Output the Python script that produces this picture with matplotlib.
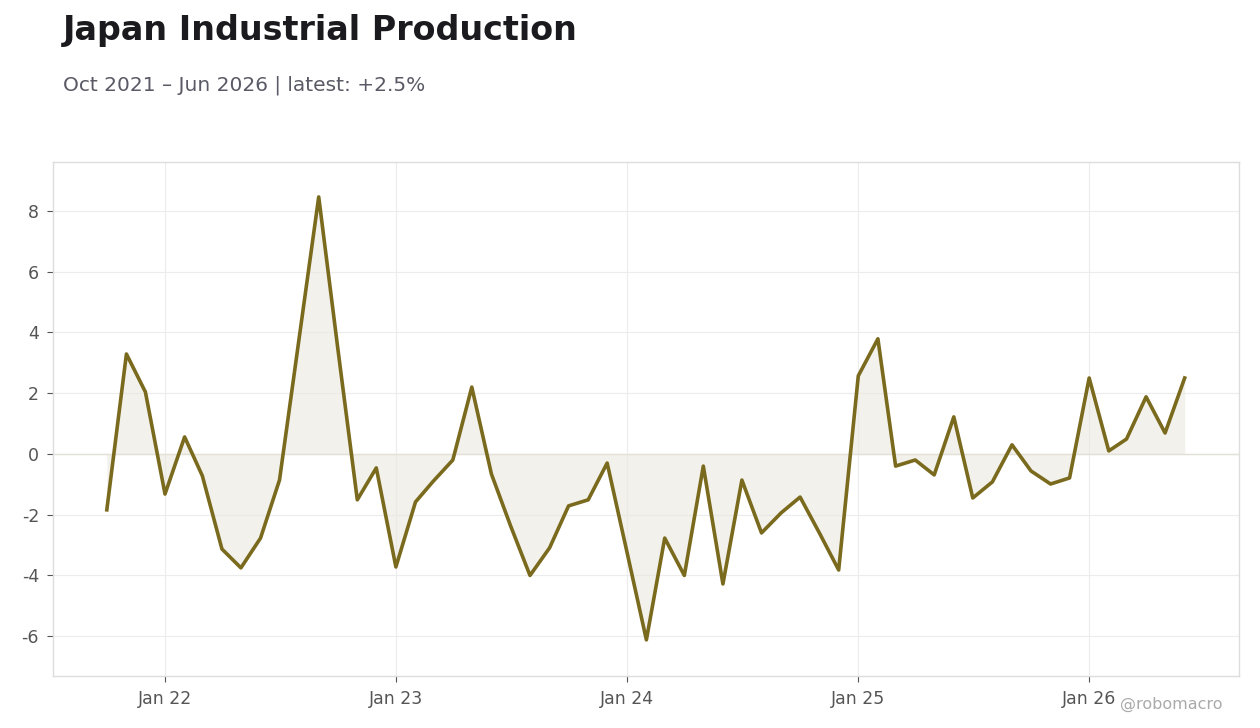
import matplotlib
matplotlib.use("Agg")
import matplotlib.pyplot as plt
import matplotlib.dates as mdates
import pandas as pd

plt.rcParams['axes.unicode_minus'] = False
plt.rcParams['font.family'] = ['DejaVu Sans']

# monthly % change, Oct 2021 - Jun 2026
months = pd.date_range('2021-10-01', '2026-06-01', freq='MS')
values = [
    -1.84, 3.29, 2.04,
    -1.32, 0.56, -0.72, -3.13, -3.75, -2.77, -0.86, 3.80, 8.46, 3.50, -1.51, -0.46,
    -3.72, -1.58, -0.90, -0.20, 2.20, -0.66, -2.35, -4.00, -3.09, -1.71, -1.51, -0.30,
    -3.20, -6.12, -2.77, -4.00, -0.40, -4.28, -0.86, -2.60, -1.94, -1.42, -2.62, -3.82,
    2.57, 3.79, -0.40, -0.20, -0.69, 1.22, -1.45, -0.92, 0.30, -0.56, -0.99, -0.79,
    2.50, 0.10, 0.49, 1.88, 0.69, 2.50,
]
title = 'Japan Industrial Production'
subtitle = 'Oct 2021 \u2013 Jun 2026 | latest: +2.5%'

line_color = '#7a6a1e'
grid_color = '#ececec'

fig = plt.figure(figsize=(12.6, 7.28), dpi=100)
ax = fig.add_axes([0.042, 0.0714, 0.941, 0.7061])

ax.fill_between(months, values, 0, color='#ebe8df', alpha=0.6, lw=0)
ax.axhline(0, color='#e3e0d6', lw=1, zorder=1)
ax.plot(months, values, color=line_color, lw=2.6, zorder=3)

ax.set_ylim(-7.31, 9.61)
ax.set_yticks([-6, -4, -2, 0, 2, 4, 6, 8])
ax.xaxis.set_major_locator(mdates.YearLocator())
ax.xaxis.set_major_formatter(mdates.DateFormatter('%b %y'))
ax.margins(x=0.05)

ax.grid(True, color=grid_color, lw=0.8)
ax.set_axisbelow(True)
for s in ax.spines.values():
    s.set_color('#dddddd')
    s.set_linewidth(1)
ax.tick_params(axis='both', colors='#555555', labelsize=12.5, length=4)
ax.tick_params(axis='x', pad=6)
ax.tick_params(axis='y', pad=6)

fig.text(0.05, 0.958, title, fontsize=24, fontweight='bold', color='#1a1a1f', va='center')
fig.text(0.05, 0.883, subtitle, fontsize=14.5, color='#5a5a66', va='center')
fig.text(0.970, 0.032, '@robomacro', fontsize=11.5, color='#aaaaaa', ha='right', va='center')

fig.savefig('out.png', dpi=100)
